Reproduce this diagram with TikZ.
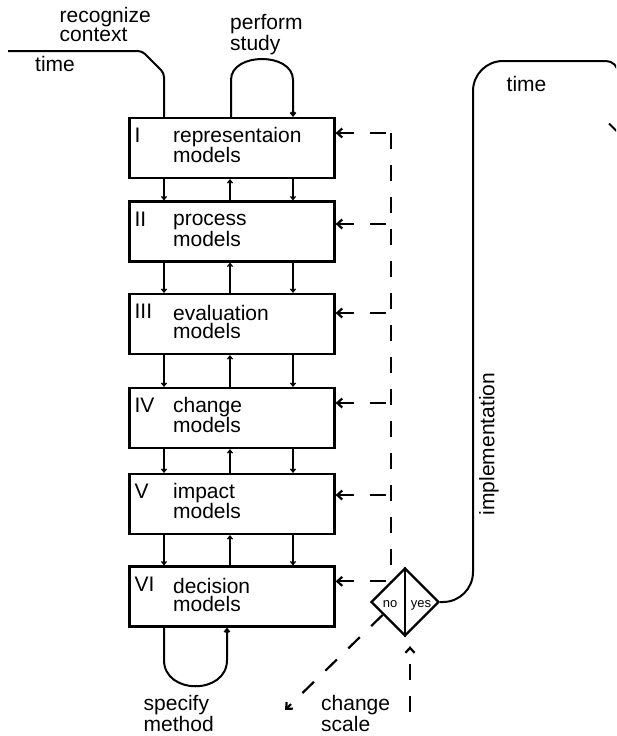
\documentclass[tikz,border=0pt]{standalone}
\usepackage{fontspec}
\setmainfont{Liberation Sans}
\usetikzlibrary{arrows.meta,shapes.geometric,calc}

\begin{document}
\begin{tikzpicture}[x=1pt,y=-1pt,
    font=\fontsize{21}{18}\selectfont,
    >={Straight Barb[length=3pt,width=5pt]},
    modelbox/.style={draw,line width=2.2pt,minimum width=205pt,minimum height=60pt,inner sep=0pt},
    numlabel/.style={anchor=base west,inner sep=0pt,xshift=6pt,yshift=-26pt},
    modeltext/.style={anchor=base west,inner sep=0pt,align=left,xshift=44.5pt,yshift=-46pt},
    flow/.style={line width=1.3pt},
    loopline/.style={line width=2pt},
    fb/.style={line width=2.2pt,dash pattern=on 16pt off 16pt,
        >={Straight Barb[length=5pt,width=9pt]}},
    lbl/.style={anchor=base west,inner sep=0pt,align=left}]
    \useasboundingbox (0,0) rectangle (616,736);
    \clip (0,0) rectangle (616,736);

    % the six model boxes
    \foreach \i/\num/\txt/\yc in {1/I/representaion/148,2/II/process/231.5,3/III/evaluation/324,
        4/IV/change/418,5/V/impact/504,6/VI/decision/596.5}{
        \node[modelbox] (m\i) at (232,\yc) {};
        \node[numlabel] (n\i) at (m\i.north west) {\num};
        \node[modeltext] (t\i) at (m\i.north west) {\txt\\models};
    }

    % decision point
    \node[draw,diamond,line width=2.3pt,minimum size=68pt,inner sep=0pt] (d) at (405,602) {};
    \draw[line width=2pt] (d.north) -- (d.south);
    \node[font=\fontsize{13}{13}\selectfont,anchor=base,inner sep=0pt] (no) at (390,607) {no};
    \node[font=\fontsize{13}{13}\selectfont,anchor=base,inner sep=0pt] (yes) at (421,607) {yes};

    % links between the boxes
    \coordinate (xl) at (164,0);
    \coordinate (xm) at (230,0);
    \coordinate (xr) at (293,0);
    \foreach \i/\j in {1/2,2/3,3/4,4/5,5/6}{
        \draw[flow,->] (m\i.south -| xl) -- (m\j.north -| xl);
        \draw[flow,->] (m\j.north -| xm) -- (m\i.south -| xm);
        \draw[flow,->] (m\i.south -| xr) -- (m\j.north -| xr);
    }

    % input and the two loops
    \coordinate (tin) at (8,51);
    \draw[loopline,rounded corners=4pt] (tin) -- (142,51) -- (164,73) -- (m1.north -| xl);
    \coordinate (ps1) at (231,80);
    \coordinate (ps2) at (293,80);
    \draw[loopline,->] (m1.north -| ps1) -- (ps1) .. controls +(0,-28) and +(0,-28) .. (ps2) -- (m1.north -| ps2);
    \coordinate (sp1) at (164,660);
    \coordinate (sp2) at (227,660);
    \draw[loopline,->] (m6.south -| sp1) -- (sp1) .. controls +(0,35) and +(0,35) .. (sp2) -- (m6.south -| sp2);

    % feedback
    \foreach \i/\yf in {1/133,2/224,3/313,4/403,5/495}{
        \coordinate (f\i) at (391,\yf);
        \draw[fb,<-] (m\i.east |- f\i) -- (f\i);
    }
    \draw[fb,<-] (m6.east |- d.125) -- (d.125);
    \draw[fb] (f1) -- (f1 |- d.125);
    \coordinate (sc) at (285,710);
    \draw[fb,->] (d.210) -- (sc);
    \coordinate (cs) at (410,712);
    \draw[fb,->,shorten >=9pt] (cs) -- (cs |- d.south);

    % implementation
    \coordinate (tout) at (618,134);
    \draw[loopline,-{Straight Barb[length=9pt,width=18pt]},rounded corners=30pt] (d.east) -- (473,602) -- (473,61) [rounded corners=12pt] -- (618,61) -- (tout);

    \node[lbl] (rc) at (59.5,41) {recognize\\context};
    \node[lbl] (tl) at (35,71) {time};
    \node[lbl] (pf) at (230,50.5) {perform\\study};
    \node[lbl] (tr) at (506.5,91.5) {time};
    \node[lbl] (sm) at (143.5,731.5) {specify\\method};
    \node[lbl] (cg) at (321,731) {change\\scale};
    \node[rotate=90,inner sep=0pt] (im) at (489,444) {implementation};
\end{tikzpicture}
\end{document}
